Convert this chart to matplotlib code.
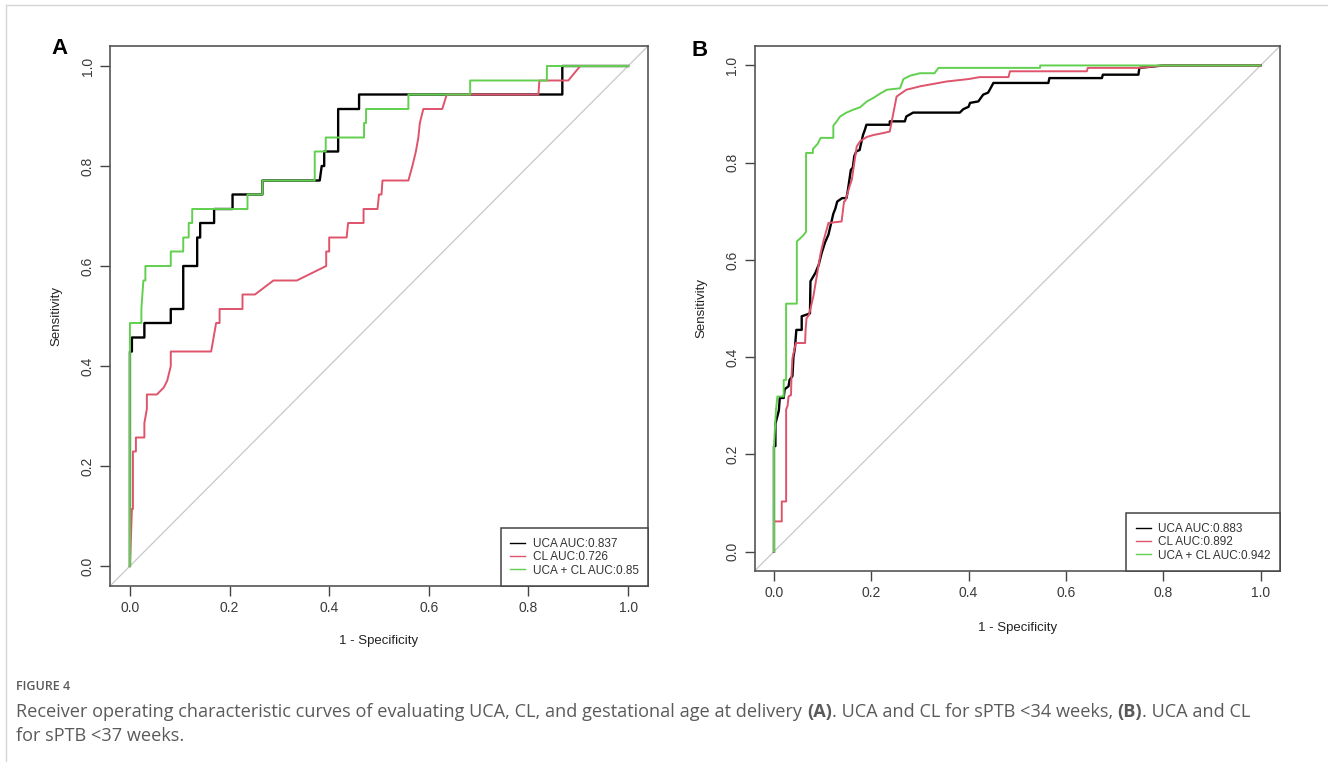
import matplotlib
matplotlib.use("Agg")
import matplotlib.pyplot as plt

plt.rcParams["font.family"] = ["Liberation Sans", "DejaVu Sans"]

W, H = 1328, 762

# ---- data (1 - specificity, sensitivity) ----
# Panel A: sPTB <34 weeks
a_uca = [(0, 0), (0, 0.429), (0.004, 0.429), (0.004, 0.457), (0.029, 0.457), (0.029, 0.486),
         (0.082, 0.486), (0.082, 0.514), (0.107, 0.514), (0.107, 0.600), (0.135, 0.600),
         (0.135, 0.657), (0.141, 0.657), (0.141, 0.686), (0.169, 0.686), (0.169, 0.714),
         (0.206, 0.714), (0.206, 0.743), (0.266, 0.743), (0.266, 0.771), (0.381, 0.771),
         (0.385, 0.800), (0.390, 0.800), (0.390, 0.829), (0.418, 0.829), (0.418, 0.914),
         (0.460, 0.914), (0.460, 0.943), (0.868, 0.943), (0.868, 1.0), (1.0, 1.0)]
a_cl = [(0, 0), (0.004, 0.114), (0.006, 0.114), (0.006, 0.229), (0.012, 0.229), (0.012, 0.257),
        (0.029, 0.257), (0.029, 0.286), (0.034, 0.314), (0.034, 0.343), (0.054, 0.343),
        (0.068, 0.357), (0.075, 0.371), (0.082, 0.400), (0.082, 0.429), (0.163, 0.429),
        (0.168, 0.457), (0.173, 0.486), (0.180, 0.486), (0.180, 0.514), (0.226, 0.514),
        (0.226, 0.543), (0.251, 0.543), (0.288, 0.571), (0.335, 0.571), (0.394, 0.600),
        (0.394, 0.629), (0.400, 0.629), (0.400, 0.657), (0.435, 0.657), (0.438, 0.686),
        (0.469, 0.686), (0.469, 0.714), (0.497, 0.714), (0.500, 0.743), (0.505, 0.743),
        (0.507, 0.771), (0.559, 0.771), (0.567, 0.800), (0.574, 0.829), (0.579, 0.857),
        (0.582, 0.886), (0.589, 0.914), (0.627, 0.914), (0.636, 0.943), (0.820, 0.943),
        (0.822, 0.971), (0.880, 0.971), (0.904, 1.0), (1.0, 1.0)]
a_both = [(0, 0), (0, 0.486), (0.023, 0.486), (0.023, 0.514), (0.025, 0.543), (0.027, 0.571),
          (0.031, 0.571), (0.031, 0.600), (0.082, 0.600), (0.082, 0.629), (0.107, 0.629),
          (0.107, 0.657), (0.118, 0.657), (0.118, 0.686), (0.125, 0.686), (0.125, 0.714),
          (0.236, 0.714), (0.236, 0.743), (0.266, 0.743), (0.266, 0.771), (0.371, 0.771),
          (0.371, 0.829), (0.393, 0.829), (0.393, 0.857), (0.470, 0.857), (0.470, 0.886),
          (0.474, 0.886), (0.474, 0.914), (0.559, 0.914), (0.559, 0.943), (0.683, 0.943),
          (0.683, 0.971), (0.837, 0.971), (0.837, 1.0), (1.0, 1.0)]
a_labels = ["UCA AUC:0.837", "CL AUC:0.726", "UCA + CL AUC:0.85"]

# Panel B: sPTB <37 weeks
b_uca = [(0, 0), (0, 0.217), (0.003, 0.217), (0.003, 0.263), (0.010, 0.290), (0.012, 0.316),
         (0.020, 0.316), (0.022, 0.334), (0.030, 0.340), (0.032, 0.353), (0.038, 0.361),
         (0.040, 0.400), (0.043, 0.418), (0.046, 0.456), (0.057, 0.456), (0.057, 0.484),
         (0.066, 0.487), (0.074, 0.490), (0.075, 0.556), (0.085, 0.573), (0.092, 0.590),
         (0.098, 0.614), (0.105, 0.636), (0.112, 0.652), (0.122, 0.695), (0.126, 0.705),
         (0.130, 0.720), (0.140, 0.727), (0.149, 0.727), (0.152, 0.744), (0.158, 0.785),
         (0.162, 0.790), (0.165, 0.813), (0.169, 0.823), (0.176, 0.826), (0.183, 0.857),
         (0.187, 0.868), (0.190, 0.878), (0.238, 0.878), (0.238, 0.885), (0.269, 0.885),
         (0.272, 0.895), (0.286, 0.903), (0.382, 0.903), (0.389, 0.910), (0.400, 0.915),
         (0.403, 0.923), (0.420, 0.926), (0.430, 0.940), (0.440, 0.944), (0.444, 0.951),
         (0.451, 0.964), (0.564, 0.964), (0.566, 0.974), (0.674, 0.974), (0.676, 0.981),
         (0.749, 0.981), (0.751, 0.995), (0.800, 1.0), (1.0, 1.0)]
b_cl = [(0, 0), (0, 0.062), (0.016, 0.062), (0.016, 0.103), (0.025, 0.103), (0.025, 0.292),
        (0.028, 0.300), (0.030, 0.319), (0.035, 0.322), (0.036, 0.360), (0.038, 0.398),
        (0.045, 0.429), (0.064, 0.429), (0.065, 0.456), (0.067, 0.480), (0.072, 0.487),
        (0.081, 0.525), (0.089, 0.573), (0.096, 0.614), (0.102, 0.640), (0.112, 0.676),
        (0.139, 0.679), (0.144, 0.720), (0.147, 0.722), (0.155, 0.750), (0.160, 0.765),
        (0.164, 0.792), (0.170, 0.833), (0.177, 0.844), (0.191, 0.853), (0.205, 0.857),
        (0.225, 0.861), (0.238, 0.864), (0.245, 0.900), (0.252, 0.936), (0.272, 0.950),
        (0.300, 0.957), (0.355, 0.967), (0.400, 0.972), (0.423, 0.976), (0.482, 0.976),
        (0.485, 0.988), (0.643, 0.988), (0.645, 0.995), (0.750, 0.995), (0.800, 1.0), (1.0, 1.0)]
b_both = [(0, 0), (0, 0.216), (0.004, 0.290), (0.007, 0.319), (0.020, 0.319), (0.020, 0.353),
          (0.025, 0.353), (0.025, 0.510), (0.047, 0.510), (0.047, 0.638), (0.060, 0.650),
          (0.066, 0.658), (0.066, 0.820), (0.080, 0.820), (0.080, 0.828), (0.090, 0.839),
          (0.096, 0.851), (0.122, 0.851), (0.122, 0.876), (0.129, 0.885), (0.136, 0.895),
          (0.149, 0.903), (0.163, 0.909), (0.177, 0.914), (0.191, 0.926), (0.204, 0.933),
          (0.218, 0.942), (0.232, 0.950), (0.259, 0.953), (0.266, 0.972), (0.280, 0.979),
          (0.300, 0.984), (0.330, 0.984), (0.338, 0.995), (0.547, 0.995), (0.547, 1.0), (1.0, 1.0)]
b_labels = ["UCA AUC:0.883", "CL AUC:0.892", "UCA + CL AUC:0.942"]

ticks = [0.0, 0.2, 0.4, 0.6, 0.8, 1.0]
tick_labels = ["0.0", "0.2", "0.4", "0.6", "0.8", "1.0"]
colors = ["black", "#DF536B", "#61D04F"]
widths = [1.7, 1.4, 1.4]

caption_title = "FIGURE 4"
caption_line1 = [("Receiver operating characteristic curves of evaluating UCA, CL, and gestational age at delivery", "normal"),
                 ("(A)", "bold"), (". UCA and CL for sPTB <34 weeks,", "normal"), ("(B)", "bold"),
                 (". UCA and CL", "normal")]
caption_line2 = "for sPTB <37 weeks."

fig = plt.figure(figsize=(W / 100, H / 100), dpi=100)


def px_axes(left, top, right, bottom):
    return fig.add_axes([left / W, 1 - bottom / H, (right - left) / W, (bottom - top) / H])


def roc_panel(ax, curves, labels, xlab_off):
    ax.axline((0, 0), (1, 1), color="#c8c8c8", lw=0.9, zorder=1)
    for pts, c, lw in zip(curves, colors, widths):
        ax.plot([p[0] for p in pts], [p[1] for p in pts], color=c, lw=lw, zorder=2)
    ax.set_xlim(-0.04, 1.04)
    ax.set_ylim(-0.04, 1.04)
    ax.set_xticks(ticks)
    ax.set_xticklabels(tick_labels)
    ax.set_yticks(ticks)
    ax.set_yticklabels(tick_labels, rotation=90, va="center")
    ax.tick_params(direction="out", length=7, width=1, color="#444444",
                   labelcolor="#3a3a3a", labelsize=10, pad=4)
    for s in ax.spines.values():
        s.set_color("#555555")
        s.set_linewidth(1.2)
    ax.set_xlabel("1 - Specificity", fontsize=9.5, color="#222222")
    ax.set_ylabel("Sensitivity", fontsize=9.5, color="#222222")
    ax.xaxis.set_label_coords(0.5, xlab_off)
    ax.yaxis.set_label_coords(-0.089, 0.5)
    handles = [plt.Line2D([], [], color=c, lw=1.0) for c in colors]
    leg = ax.legend(handles, labels, loc="lower right", borderaxespad=0, fancybox=False,
                    framealpha=1, edgecolor="#444444", fontsize=8.5, borderpad=0.8,
                    labelspacing=0.12, handlelength=1.3, handletextpad=0.6)
    leg.get_frame().set_linewidth(1.1)
    for t in leg.get_texts():
        t.set_color("#333333")


ax_a = px_axes(110, 46, 648, 586)
roc_panel(ax_a, [a_uca, a_cl, a_both], a_labels, -0.09)
ax_b = px_axes(754.5, 46, 1280, 571)
roc_panel(ax_b, [b_uca, b_cl, b_both], b_labels, -0.097)

fig.text(59 / W, 1 - 48 / H, "A", fontsize=16, fontweight="bold", ha="center", va="center")
fig.text(700 / W, 1 - 50 / H, "B", fontsize=16, fontweight="bold", ha="center", va="center")

# thin page frame at left/top
fig.add_artist(plt.Line2D([6 / W, 6 / W], [0, 1 - 5 / H], color="#d5d5d5", lw=1))
fig.add_artist(plt.Line2D([6 / W, 1], [1 - 5 / H, 1 - 5 / H], color="#d5d5d5", lw=1))

# caption
cap_font = ["Open Sans", "DejaVu Sans"]
cap_color = "#5a5a5a"
fig.text(16 / W, 1 - 686 / H, caption_title, fontsize=9, fontweight="semibold",
         color=cap_color, family=cap_font, va="center")

renderer = fig.canvas.get_renderer()


def text_w(s, size, weight):
    t = fig.text(0, 0, s, fontsize=size, fontweight=weight, family=cap_font)
    w = t.get_window_extent(renderer).width
    t.remove()
    return w


def line_width(runs, size):
    space = text_w("a a", size, "normal") - text_w("aa", size, "normal")
    total = sum(text_w(s, size, wt) for s, wt in runs)
    gaps = [0 if s.startswith(".") else space for s, _ in runs[1:]]
    return total + sum(gaps), space


size = 11
w, _ = line_width(caption_line1, size)
size = size * 1234 / w
_, space = line_width(caption_line1, size)

x = 16
for i, (s, wt) in enumerate(caption_line1):
    if i > 0 and not s.startswith("."):
        x += space
    fig.text(x / W, 1 - 712 / H, s, fontsize=size, fontweight=wt, family=cap_font,
             color=cap_color, va="center")
    x += text_w(s, size, wt)
fig.text(16 / W, 1 - 736 / H, caption_line2, fontsize=size, family=cap_font,
         color=cap_color, va="center")

fig.savefig("out.png", dpi=100)
